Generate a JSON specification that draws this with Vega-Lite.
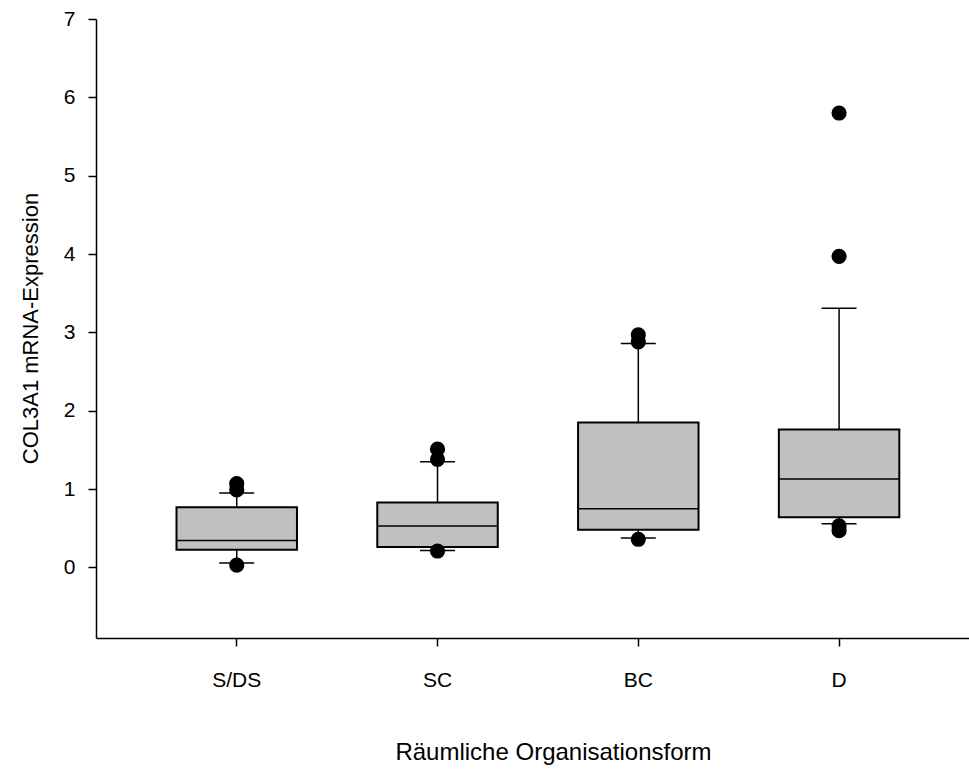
{
  "$schema": "https://vega.github.io/schema/vega-lite/v6.json",
  "width": 873,
  "height": 619,
  "autosize": "none",
  "padding": {"left": 96, "top": 19, "right": 0, "bottom": 131},
  "background": "white",
  "config": {
    "view": {"stroke": null},
    "font": "Liberation Sans",
    "axis": {
      "grid": false,
      "domainColor": "black",
      "domainWidth": 1.5,
      "tickColor": "black",
      "tickWidth": 1.5,
      "tickSize": 8,
      "labelColor": "black",
      "titleColor": "black",
      "labelFont": "Liberation Sans",
      "titleFont": "Liberation Sans",
      "labelFontSize": 21,
      "titleFontSize": 22,
      "titleFontWeight": "normal"
    }
  },
  "datasets": {
    "boxes": [
      {"group": "S/DS", "lower": 0.056, "q1": 0.226, "median": 0.344, "q3": 0.77, "upper": 0.95},
      {"group": "SC", "lower": 0.217, "q1": 0.26, "median": 0.53, "q3": 0.83, "upper": 1.35},
      {"group": "BC", "lower": 0.375, "q1": 0.48, "median": 0.75, "q3": 1.85, "upper": 2.86},
      {"group": "D", "lower": 0.557, "q1": 0.64, "median": 1.13, "q3": 1.76, "upper": 3.31}
    ],
    "outliers": [
      {"group": "S/DS", "value": 1.07},
      {"group": "S/DS", "value": 0.99},
      {"group": "S/DS", "value": 0.03},
      {"group": "SC", "value": 1.51},
      {"group": "SC", "value": 1.38},
      {"group": "SC", "value": 0.21},
      {"group": "BC", "value": 2.97},
      {"group": "BC", "value": 2.88},
      {"group": "BC", "value": 0.36},
      {"group": "D", "value": 5.80},
      {"group": "D", "value": 3.97},
      {"group": "D", "value": 0.53},
      {"group": "D", "value": 0.47}
    ]
  },
  "encoding": {
    "x": {
      "field": "group",
      "type": "nominal",
      "sort": ["S/DS", "SC", "BC", "D"],
      "scale": {"paddingInner": 0.4, "paddingOuter": 0.374, "align": 0.536},
      "axis": {
        "title": "Räumliche Organisationsform",
        "labelAngle": 0,
        "labelPadding": 23,
        "labelDx": 4,
        "titleFontSize": 24,
        "titleX": 457,
        "titleY": 114,
        "titleAnchor": null,
        "titleAlign": "center",
        "titleBaseline": "middle"
      }
    }
  },
  "layer": [
    {
      "data": {"name": "boxes"},
      "mark": {"type": "rule", "stroke": "black", "strokeWidth": 1.5},
      "encoding": {
        "y": {
          "field": "q3",
          "type": "quantitative",
          "scale": {"domain": [-0.9, 7], "nice": false, "zero": false},
          "axis": {
            "title": "COL3A1 mRNA-Expression",
            "values": [0, 1, 2, 3, 4, 5, 6, 7],
            "format": "d",
            "labelPadding": 13,
            "titleX": -66,
            "titleY": 309,
            "titleAngle": -90,
            "titleAlign": "center",
            "titleBaseline": "middle"
          }
        },
        "y2": {"field": "upper"}
      }
    },
    {
      "data": {"name": "boxes"},
      "mark": {"type": "rule", "stroke": "black", "strokeWidth": 1.5},
      "encoding": {
        "y": {"field": "lower", "type": "quantitative"},
        "y2": {"field": "q1"}
      }
    },
    {
      "data": {"name": "boxes"},
      "mark": {"type": "tick", "color": "black", "size": 35, "thickness": 1.5, "opacity": 1},
      "encoding": {"y": {"field": "upper", "type": "quantitative"}}
    },
    {
      "data": {"name": "boxes"},
      "mark": {"type": "tick", "color": "black", "size": 35, "thickness": 1.5, "opacity": 1},
      "encoding": {"y": {"field": "lower", "type": "quantitative"}}
    },
    {
      "data": {"name": "boxes"},
      "mark": {"type": "bar", "fill": "#c0c0c0", "stroke": "black", "strokeWidth": 2},
      "encoding": {
        "y": {"field": "q1", "type": "quantitative"},
        "y2": {"field": "q3"}
      }
    },
    {
      "data": {"name": "boxes"},
      "mark": {"type": "tick", "color": "black", "size": 120, "thickness": 1.5, "opacity": 1},
      "encoding": {"y": {"field": "median", "type": "quantitative"}}
    },
    {
      "data": {"name": "outliers"},
      "mark": {"type": "circle", "color": "black", "opacity": 1, "size": 230},
      "encoding": {"y": {"field": "value", "type": "quantitative"}}
    }
  ]
}
